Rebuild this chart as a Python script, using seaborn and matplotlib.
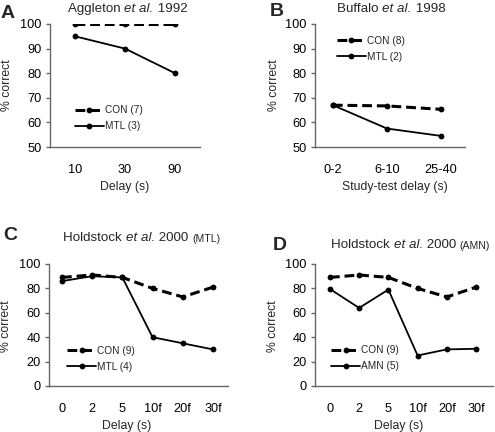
import matplotlib
matplotlib.use("Agg")
import matplotlib.pyplot as plt
import seaborn as sns
import pandas as pd

sns.set_theme(style="white")
plt.rcParams['font.family'] = ['Liberation Sans', 'DejaVu Sans']

# ---- data ----
a_delays = ["10", "30", "90"]
a_con = [100, 100, 100]
a_mtl = [95, 90, 80]

b_delays = ["0-2", "6-10", "25-40"]
b_con = [67.0, 66.7, 65.3]
b_mtl = [67.0, 57.5, 54.5]

cd_delays = ["0", "2", "5", "10f", "20f", "30f"]
c_con = [89, 91, 89, 80, 73, 81]
c_mtl = [86, 90, 89, 40, 35, 30]
d_con = [89, 91, 89, 80, 73, 81]
d_amn = [79.5, 64, 79, 25, 30, 30.5]

W, H = 495, 432
fig = plt.figure(figsize=(W / 100, H / 100), dpi=100)

def px_axes(left, top, right, bottom):
    return fig.add_axes([left / W, 1 - bottom / H, (right - left) / W, (bottom - top) / H])

SPINE = '#666666'
DASH = (0, (3.2, 1.6))
TICK_SZ = 9.2
LEG_SZ = 7.3
title_sz = 9.6
lab_sz = 8.8

def draw(ax, cats, con, other, con_lab, oth_lab, ylim, yticks, xlim,
         leg_xy, title_parts, title_xy):
    df1 = pd.DataFrame({"x": cats, "y": con})
    df2 = pd.DataFrame({"x": cats, "y": other})
    sns.lineplot(data=df1, x="x", y="y", ax=ax, color="black", lw=2.2,
                 linestyle=DASH, marker="o", markersize=4.2, markeredgewidth=0,
                 label=con_lab, sort=False)
    sns.lineplot(data=df2, x="x", y="y", ax=ax, color="black", lw=1.3,
                 marker="o", markersize=4.2, markeredgewidth=0,
                 label=oth_lab, sort=False)
    ax.set_ylim(*ylim)
    ax.set_yticks(yticks)
    ax.set_xlim(*xlim)
    ax.set_xticks(range(len(cats)))
    ax.set_xticklabels(cats)
    ax.set_xlabel("")
    ax.set_ylabel("")
    for s in ["top", "right"]:
        ax.spines[s].set_visible(False)
    for s in ["left", "bottom"]:
        ax.spines[s].set_color(SPINE)
        ax.spines[s].set_linewidth(1.0)
    ax.tick_params(axis="y", which="both", left=True, length=3, width=1,
                   color=SPINE, labelsize=TICK_SZ, pad=3, labelcolor="black")
    ax.tick_params(axis="x", bottom=False, labelsize=TICK_SZ, pad=6, labelcolor="black")
    ax.set_facecolor("none")
    ax.legend(loc="upper left", bbox_to_anchor=leg_xy, frameon=False,
              fontsize=LEG_SZ, handlelength=2.9, handletextpad=0.1,
              borderpad=0, borderaxespad=0, labelspacing=0.6)
    prev = None
    for txt, style, size in title_parts:
        if prev is None:
            prev = ax.text(title_xy[0], title_xy[1], txt, transform=ax.transAxes,
                           fontsize=size, style=style, ha="left", va="baseline")
        else:
            prev = ax.annotate(txt, xycoords=prev, xy=(1, 0), va="bottom",
                               fontsize=size, style=style, ha="left")
    return ax

axA = px_axes(50, 24, 200, 147)
draw(axA, a_delays, a_con, a_mtl, "CON (7)", "MTL (3)", (50, 100), range(50, 101, 10),
     (-0.5, 2.5), (0.165, 0.34),
     [("Aggleton ", "normal", title_sz), ("et al.", "italic", title_sz), (" 1992", "normal", title_sz)],
     (0.12, 1.098))

axB = px_axes(315, 24, 465, 147)
draw(axB, b_delays, b_con, b_mtl, "CON (8)", "MTL (2)", (50, 100), range(50, 101, 10),
     (-0.33, 2.44), (0.145, 0.905),
     [("Buffalo ", "normal", title_sz), ("et al.", "italic", title_sz), (" 1998", "normal", title_sz)],
     (0.147, 1.098))

axC = px_axes(49, 264, 228, 386)
draw(axC, cd_delays, c_con, c_mtl, "CON (9)", "MTL (4)", (0, 100), range(0, 101, 20),
     (-0.43, 5.5), (0.10, 0.33),
     [("Holdstock ", "normal", title_sz), ("et al.", "italic", title_sz), (" 2000 ", "normal", title_sz),
      ("(MTL)", "normal", 7.6)],
     (0.08, 1.187))

axD = px_axes(315, 264, 493, 386)
draw(axD, cd_delays, d_con, d_amn, "CON (9)", "AMN (5)", (0, 100), range(0, 101, 20),
     (-0.51, 5.58), (0.09, 0.335),
     [("Holdstock ", "normal", title_sz), ("et al.", "italic", title_sz), (" 2000 ", "normal", title_sz),
      ("(AMN)", "normal", 7.6)],
     (0.09, 1.13))

# axis labels
fig.text(125 / W, 1 - 187 / H, "Delay (s)", ha="center", va="center", fontsize=lab_sz)
fig.text(395 / W, 1 - 187 / H, "Study-test delay (s)", ha="center", va="center", fontsize=lab_sz)
fig.text(127 / W, 1 - 426 / H, "Delay (s)", ha="center", va="center", fontsize=lab_sz)
fig.text(399 / W, 1 - 426 / H, "Delay (s)", ha="center", va="center", fontsize=lab_sz)
for x, y in [(7, 85), (274, 85), (6, 326), (273, 326)]:
    fig.text(x / W, 1 - y / H, "% correct", ha="center", va="center", rotation=90, fontsize=lab_sz)

# panel letters
for x, y, s in [(1, 18, "A"), (270, 16, "B"), (3, 240, "C"), (273, 250, "D")]:
    fig.text(x / W, 1 - y / H, s, ha="left", va="baseline", fontsize=14, weight="bold")

fig.savefig("out.png", dpi=100)
